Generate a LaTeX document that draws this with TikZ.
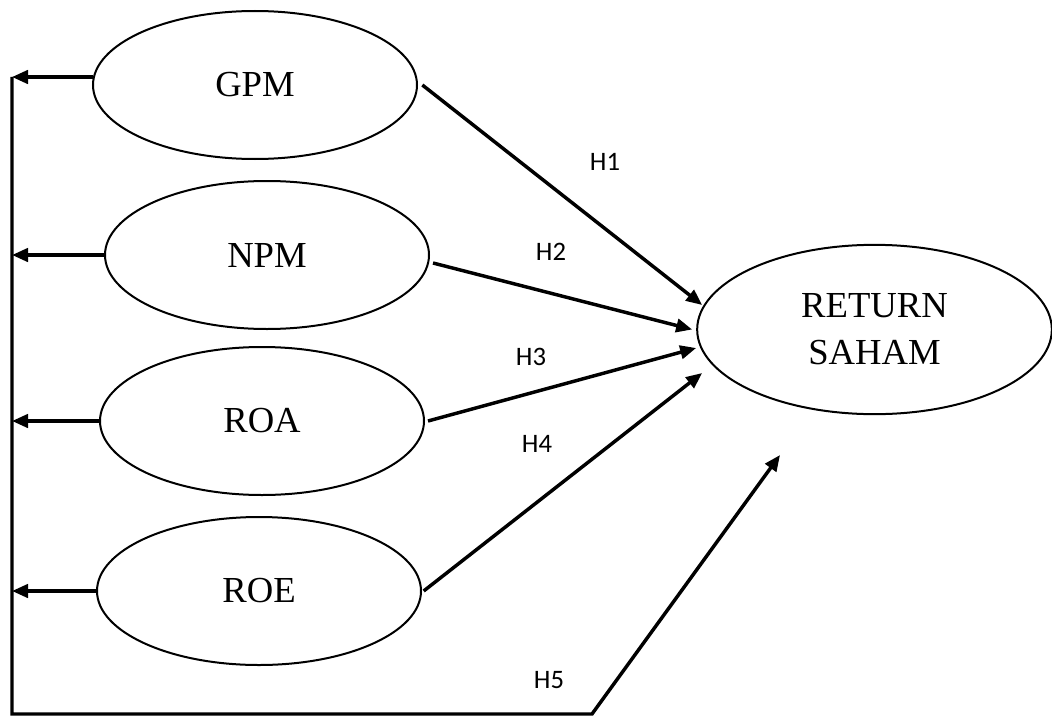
\documentclass[tikz,border=0pt]{standalone}
\usepackage{fontspec}
\setmainfont{Liberation Serif}
\newfontfamily\hypfont{Carlito}
\usetikzlibrary{shapes,arrows.meta,calc}

\begin{document}
\begin{tikzpicture}[x=0.75pt,y=-0.75pt,
    var/.style={ellipse, draw, line width=1.5pt, inner sep=0pt, outer sep=0pt,
        minimum width=243pt, minimum height=111pt, font=\fontsize{27.5}{35}\selectfont},
    arr/.style={line width=2.6pt, -{Triangle[length=12pt,width=10pt]}},
    hyp/.style={font=\hypfont\fontsize{20}{24}\selectfont}]

    \useasboundingbox (0,0) rectangle (1052,717);

    \draw(255,85) node[var] (GPM) {GPM};
    \draw(267,255) node[var] (NPM) {NPM};
    \draw(262,421) node[var] (ROA) {ROA};
    \draw(259,591) node[var] (ROE) {ROE};
    \draw(874.5,329.5) node[var, minimum width=266pt, minimum height=127pt, align=center] (RET) {RETURN\\SAHAM};

    \draw(605,162) node[hyp] (H1) {H1};
    \draw(551,252) node[hyp] (H2) {H2};
    \draw(531,357) node[hyp] (H3) {H3};
    \draw(537,444) node[hyp] (H4) {H4};
    \draw(549,680) node[hyp] (H5) {H5};

    \coordinate (top) at (12,77);
    \coordinate (corner) at (12,714);
    \coordinate (foot) at (592,714);
    \coordinate (tip5) at (780,455);

    % back to the left bar
    \draw[arr] ([yshift=6pt]GPM.west) -- ([yshift=6pt]GPM.west -| top);
    \draw[arr] (NPM.west) -- (NPM.west -| top);
    \draw[arr] (ROA.west) -- (ROA.west -| top);
    \draw[arr] (ROE.west) -- (ROE.west -| top);
    \draw[arr] (top) -- (corner) -- (foot) -- (tip5);

    % into return saham
    \draw[arr] ([xshift=4pt]GPM.east) -- ($(RET.west)+(5,-24.5)$);
    \draw[arr] ([shift={(3pt,-6pt)}]NPM.east) -- ($(RET.west)+(-5,0)$);
    \draw[arr] ([xshift=3pt]ROA.east) -- ($(RET.west)+(-1,18.5)$);
    \draw[arr] ([xshift=2pt]ROE.east) -- ($(RET.west)+(5,43.5)$);

\end{tikzpicture}
\end{document}
